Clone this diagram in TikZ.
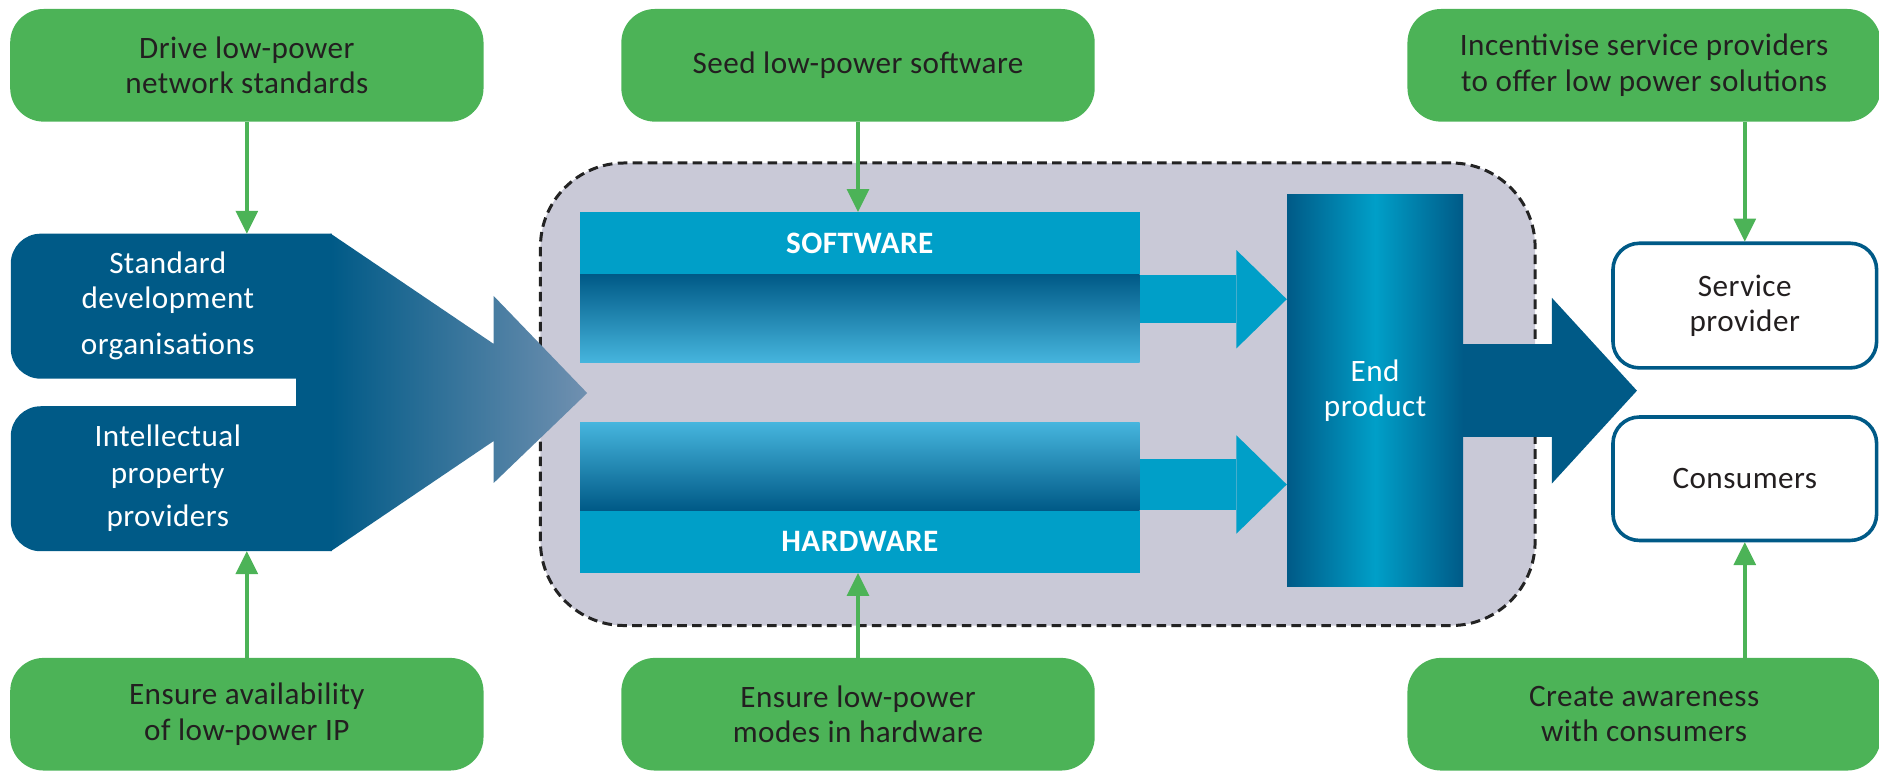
\documentclass[tikz,border=0pt]{standalone}
\usepackage{fontspec}
\setmainfont{Carlito}[LetterSpace=1.5]
\usetikzlibrary{arrows.meta,calc}
\definecolor{grn}{RGB}{76,179,87}
\definecolor{dblue}{RGB}{0,90,135}
\definecolor{cyanc}{RGB}{0,159,200}
\definecolor{lcyan}{RGB}{70,181,221}
\definecolor{tipblue}{RGB}{112,144,176}
\definecolor{grayfill}{RGB}{201,201,215}
\definecolor{txt}{RGB}{35,31,32}
\definecolor{dashc}{RGB}{35,35,35}
\begin{document}
\begin{tikzpicture}[x=1pt,y=-1pt,
  greenbox/.style={rectangle, rounded corners=28pt, fill=grn, minimum width=395pt, minimum height=94pt, text=txt, align=center, font=\fontsize{26}{29.5}\selectfont, inner sep=0pt},
  greenarrow/.style={draw=grn, line width=3pt, -{Triangle[length=19pt,width=19pt,line width=0pt]}},
  whitebox/.style={rectangle, rounded corners=22pt, draw=dblue, line width=3pt, fill=white, minimum width=220pt, text=txt, align=center, font=\fontsize{26}{29.5}\selectfont, inner sep=0pt},
  barbox/.style={rectangle, fill=cyanc, minimum width=467pt, minimum height=52pt, inner sep=0pt, text=white, font=\bfseries\fontsize{26}{30}\selectfont},
  bandbox/.style={rectangle, minimum width=467pt, minimum height=73pt, inner sep=0pt},
  whitetext/.style={text=white, align=center},
  fatcyan/.style={draw=cyanc, -{Triangle[length=42pt,width=82pt,line width=0pt]}},
]
\useasboundingbox (0,0) rectangle (1568,643);

% core grey area
\node[rectangle, rounded corners=70pt, fill=grayfill, draw=dashc, line width=2.5pt, dash pattern=on 8pt off 4.5pt, minimum width=830pt, minimum height=386pt, inner sep=0pt] (core) at (866,329) {};

% green boxes
\node[greenbox] (gtl) at (206,54.5) {Drive low-power\\network standards};
\node[greenbox] (gtm) at (716,54.5) {Seed low-power software};
\node[greenbox] (gtr) at (1372,54.5) {Incentivise service providers\\to offer low power solutions};
\node[greenbox] (gbl) at (206,596) {Ensure availability\\of low-power IP};
\node[greenbox] (gbm) at (716,596) {Ensure low-power\\modes in hardware};
\node[greenbox] (gbr) at (1372,596) {Create awareness\\with consumers};

% left dark shape
\fill[dblue, rounded corners=25pt] (277,195) -- (9,195) -- (9,316) -- (277,316);
\fill[dblue, rounded corners=25pt] (277,339) -- (9,339) -- (9,460) -- (277,460);
\fill[dblue] (247,300) rectangle (277,355);
\shade[left color=dblue, right color=tipblue] (276,195) -- (412,287) -- (412,247) -- (490,328) -- (412,403) -- (412,368) -- (276,460) -- cycle;
\coordinate (sdotop) at (206,195);
\coordinate (ippbot) at (206,460);
\node[whitetext, font=\fontsize{26}{29.5}\selectfont] (sdo) at (140,255) {Standard\\development\\[8.5pt]organisations};
\node[whitetext, font=\fontsize{26}{31}\selectfont] (ipp) at (140,399) {Intellectual\\property\\[5pt]providers};

% software / hardware
\node[barbox] (sw) at (717.5,203) {SOFTWARE};
\node[bandbox, anchor=north, top color=dblue, bottom color=lcyan] (swband) at (sw.south) {};
\node[barbox] (hw) at (717.5,452) {HARDWARE};
\node[bandbox, anchor=south, top color=lcyan, bottom color=dblue] (hwband) at (hw.north) {};

% end product
\node[rectangle, minimum width=147pt, minimum height=327pt, inner sep=0pt, left color=dblue, right color=dblue, middle color=cyanc, text=white, align=center, font=\fontsize{26}{29.5}\selectfont] (endp) at (1147.5,326) {End\\product};

\coordinate (swa) at ([yshift=-20.5pt]swband.north east);
\coordinate (hwa) at ([yshift=21.5pt]hwband.south east);
\draw[fatcyan, line width=40.5pt] (swa) -- (swa -| endp.west);
\draw[fatcyan, line width=43pt] (hwa) -- (hwa -| endp.west);

% output arrow
\coordinate (outtip) at (1366,326);
\draw[dblue, line width=78pt, -{Triangle[length=71pt,width=155pt,line width=0pt]}] (endp.east) -- (outtip);

% right white boxes
\node[whitebox, minimum height=104pt] (sp) at (1456,255) {Service\\provider};
\node[whitebox, minimum height=103pt] (cons) at (1456,399.5) {Consumers};

% green connectors
\draw[greenarrow] (gtl.south) -- (sdotop);
\draw[greenarrow] (gbl.north) -- (ippbot);
\draw[greenarrow] (gtm.south) -- (gtm.south |- sw.north);
\draw[greenarrow] (gbm.north) -- (gbm.north |- hw.south);
\draw[greenarrow] (sp.north |- gtr.south) -- (sp.north);
\draw[greenarrow] (cons.south |- gbr.north) -- (cons.south);
\end{tikzpicture}
\end{document}
